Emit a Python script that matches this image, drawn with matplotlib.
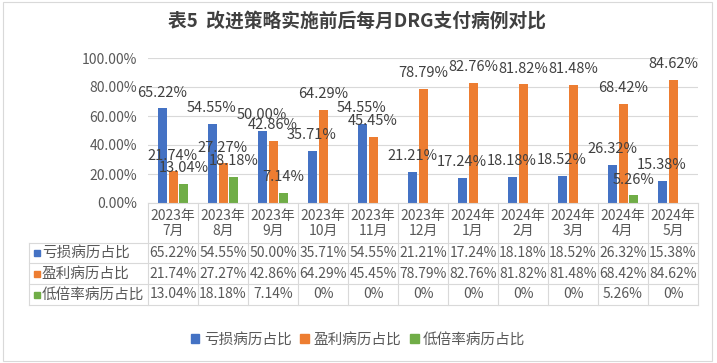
import matplotlib
matplotlib.use("Agg")
import matplotlib.pyplot as plt
import matplotlib.transforms as mtransforms
from matplotlib.patches import Patch, Rectangle
import numpy as np

plt.rcParams["font.family"] = ["Noto Sans CJK SC", "DejaVu Sans"]

### 数据
title = "表5  改进策略实施前后每月DRG支付病例对比"
months = ["2023年\n7月", "2023年\n8月", "2023年\n9月", "2023年\n10月", "2023年\n11月",
          "2023年\n12月", "2024年\n1月", "2024年\n2月", "2024年\n3月", "2024年\n4月", "2024年\n5月"]
loss = [65.22, 54.55, 50.00, 35.71, 54.55, 21.21, 17.24, 18.18, 18.52, 26.32, 15.38]
profit = [21.74, 27.27, 42.86, 64.29, 45.45, 78.79, 82.76, 81.82, 81.48, 68.42, 84.62]
low = [13.04, 18.18, 7.14, 0, 0, 0, 0, 0, 0, 5.26, 0]
names = ["亏损病历占比", "盈利病历占比", "低倍率病历占比"]
colors = ["#4472C4", "#ED7D31", "#70AD47"]
series = [loss, profit, low]

W, H = 717, 363
grid_c = "#D9D9D9"
txt_c = "#595959"

fig = plt.figure(figsize=(W / 100, H / 100), dpi=100)
ax = fig.add_axes([148 / W, 1 - 203 / H, 550 / W, 145 / H])

## 柱子 + 数据标签
x = np.arange(len(months))
offsets = [-0.22, 0, 0.21]
for vals, c, off in zip(series, colors, offsets):
    ax.bar(x + off, vals, 0.18, color=c, zorder=2)
    for xi, v in zip(x, vals):
        if v > 0:
            ax.annotate("%.2f%%" % v, (xi + off, v), xytext=(0, 8.5), textcoords="offset points",
                        ha="center", va="baseline", fontsize=10.5, color="#404040", zorder=3)

ax.set_xlim(-0.5, len(months) - 0.5)
ax.set_ylim(0, 100)
ax.set_yticks(np.arange(0, 101, 20))
ax.set_yticklabels(["%.2f%%" % t for t in np.arange(0, 101, 20)])
ax.tick_params(axis="y", length=0, pad=8, labelsize=10, labelcolor=txt_c)
ax.set_xticks([])
ax.yaxis.grid(True, color=grid_c, lw=0.8, zorder=0)
for s in ax.spines.values():
    s.set_visible(False)

## 数据表
tr = mtransforms.blended_transform_factory(ax.transData, fig.transFigure)
fy = lambda p: 1 - p / H
left = -0.5 + (29 - 148) / 50
right = len(months) - 0.5
row_lines = [243, 263, 284, 305]
for p in row_lines:
    ax.plot([left, right], [fy(p), fy(p)], color=grid_c, lw=0.8, transform=tr, clip_on=False)
ax.plot([-0.5, right], [fy(203), fy(203)], color=grid_c, lw=0.8, transform=tr, clip_on=False)
for i in range(len(months) + 1):
    ax.plot([i - 0.5, i - 0.5], [fy(203), fy(305)], color=grid_c, lw=0.8, transform=tr, clip_on=False)
ax.plot([left, left], [fy(243), fy(305)], color=grid_c, lw=0.8, transform=tr, clip_on=False)

for xi, m in zip(x, months):
    ax.text(xi, fy(223.5), m, ha="center", va="center", fontsize=10, color=txt_c,
            linespacing=1.15, transform=tr)

row_mid = [253, 273.5, 294.5]
for vals, name, c, ym in zip(series, names, colors, row_mid):
    for xi, v in zip(x, vals):
        s = "0%" if v == 0 else "%.2f%%" % v
        ax.text(xi, fy(ym), s, ha="center", va="center", fontsize=10, color=txt_c, transform=tr)
    ax.plot([-0.5 + (36.5 - 148) / 50], [fy(ym)], marker="s", ms=5, color=c, transform=tr, clip_on=False)
    ax.text(-0.5 + (42 - 148) / 50, fy(ym), name, ha="left", va="center", fontsize=10.5,
            color=txt_c, transform=tr)

## 图例
handles = [Patch(color=c, label=n) for c, n in zip(colors, names)]
fig.legend(handles=handles, loc="center", bbox_to_anchor=(358 / W, fy(340)), ncol=3, frameon=False,
           fontsize=10.5, labelcolor=txt_c, handlelength=0.6, handleheight=0.6,
           handletextpad=0.3, columnspacing=0.6)

## 标题与外框
fig.text(357 / W, fy(21), title, ha="center", va="center", fontsize=13.5, fontweight="bold", color="#404040")
fig.patches.append(Rectangle((3 / W, 2 / H), 709 / W, 359 / H, transform=fig.transFigure,
                             fill=False, ec=grid_c, lw=0.8))

fig.savefig("out.png", dpi=100)
